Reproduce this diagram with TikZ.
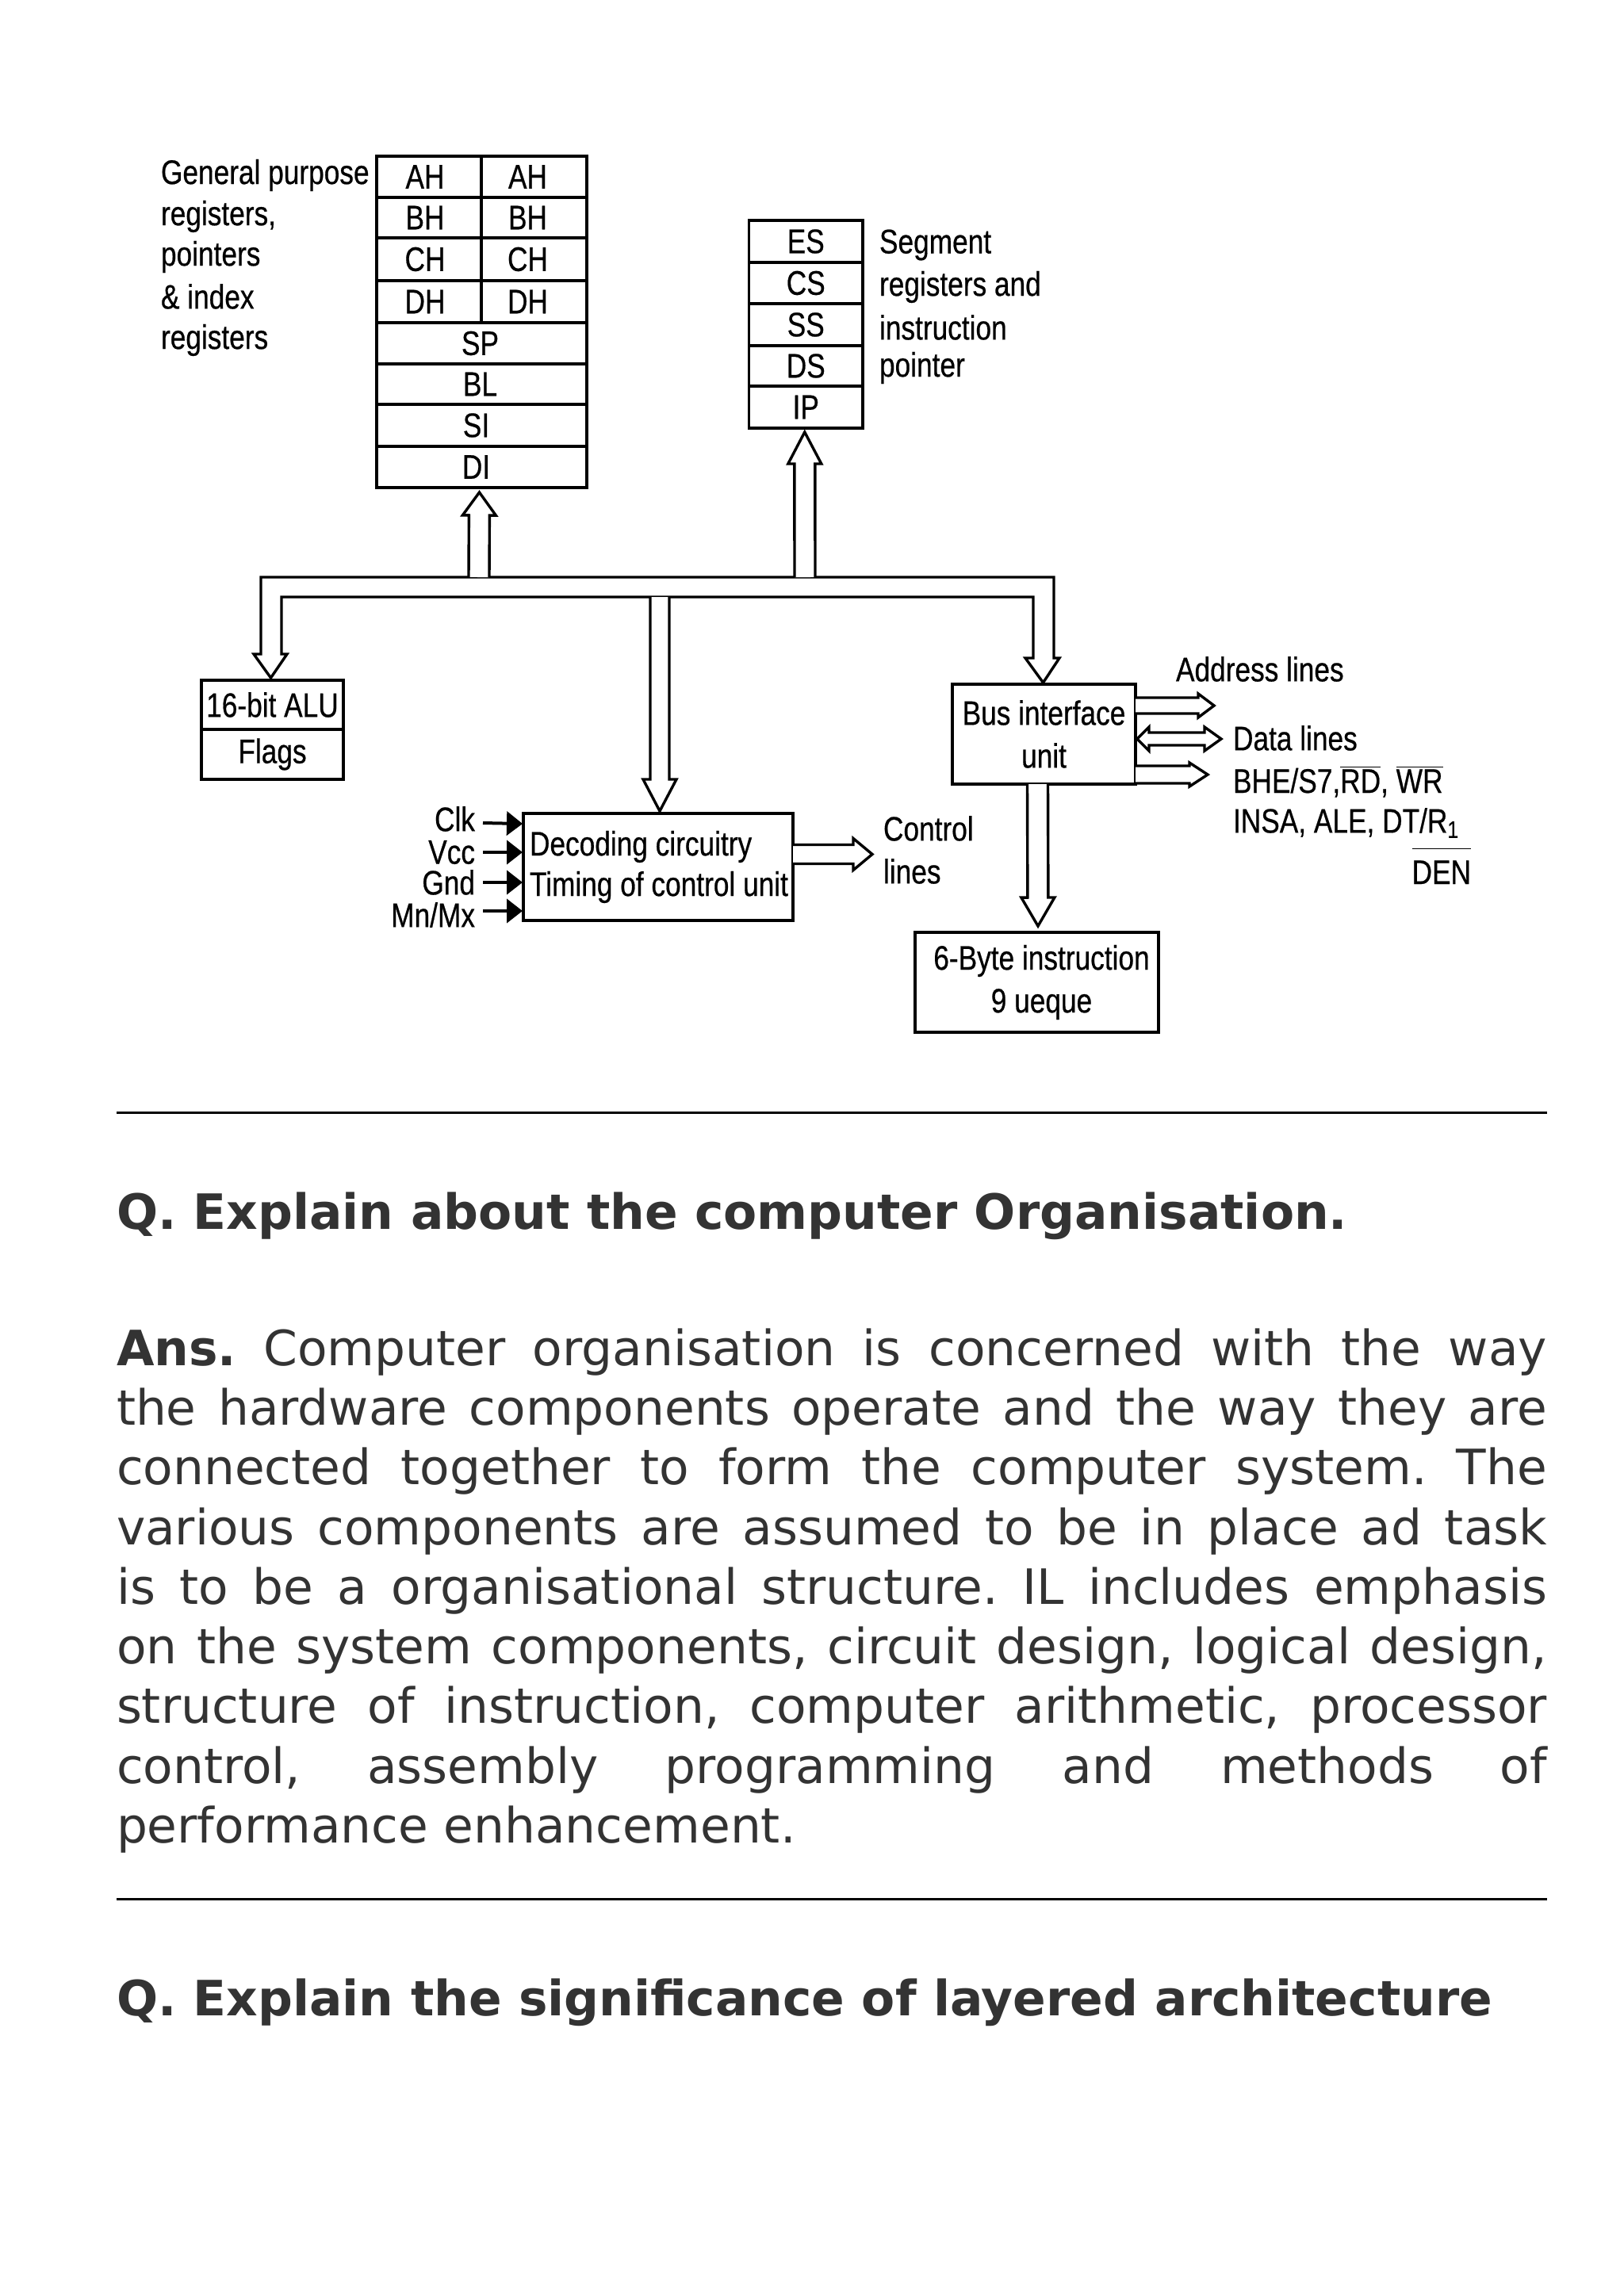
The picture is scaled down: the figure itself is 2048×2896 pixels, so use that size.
\documentclass[tikz,border=0pt]{standalone}
\usepackage{fontspec}
\setmainfont{DejaVu Sans}
\newfontfamily\dgfont[FakeStretch=0.82,FakeBold=0.5]{Liberation Sans}
\usetikzlibrary{calc,arrows.meta}
\definecolor{bodyink}{HTML}{333333}
\tikzset{
  x=0.5pt,y=-0.5pt,
  ink/.style={line width=1.7pt,draw=black,line join=miter},
  cell/.style={ink,rectangle,inner sep=0pt,outer sep=0pt,font=\dgfont\fontsize{21.5}{26}\selectfont,align=center},
  lab/.style={inner sep=0pt,outer sep=0pt,font=\dgfont\fontsize{21.5}{26}\selectfont},
  blockline/.style={ink,fill=white},
  pin/.style={line width=2pt,-{Triangle[length=10pt,width=15pt]}},
  rule/.style={line width=1.25pt,draw=black},
  para/.style={inner sep=0pt,outer sep=0pt,anchor=base west,text=bodyink,font=\frenchspacing\fontsize{30.7}{36}\selectfont},
  head/.style={para,font=\frenchspacing\bfseries\fontsize{30.7}{36}\selectfont},
}
% box from corner to corner, in picture units
\newcommand\cellbox[6]{%
  \pgfmathsetmacro\cw{(#4-#2)*0.5}\pgfmathsetmacro\ch{(#5-#3)*0.5}%
  \node[cell,minimum width=\cw pt,minimum height=\ch pt] (#1) at ({(#2+#4)/2},{(#3+#5)/2}) {#6};}
% open-based block arrow: from, tip, shaft half width, head half width, head length
\newcommand\blockarrow[5]{%
  \coordinate (hd) at ($(#2)!#5!(#1)$);
  \draw[blockline] ($(#1)!#3!90:(#2)$) -- ($(hd)!#3!-90:(#1)$) -- ($(hd)!#4!-90:(#1)$) -- (#2)
    -- ($(hd)!#4!90:(#1)$) -- ($(hd)!#3!90:(#1)$) -- ($(#1)!#3!-90:(#2)$);}
% nudge a cell's text sideways and down
\newcommand\rt[2]{\hspace*{#1}\raisebox{-1.5pt}{#2}}
\begin{document}
\begin{tikzpicture}
\useasboundingbox (0,0) rectangle (2048,2896);
\fill[white] (0,0) rectangle (2048,2896);

% general registers
\cellbox{ahl}{475}{197}{607}{249}{\rt{-5pt}{AH}}
\cellbox{ahr}{607}{197}{740}{249}{\rt{-8pt}{AH}}
\cellbox{bhl}{475}{249}{607}{300}{\rt{-5pt}{BH}}
\cellbox{bhr}{607}{249}{740}{300}{\rt{-8pt}{BH}}
\cellbox{chl}{475}{300}{607}{354}{\rt{-5pt}{CH}}
\cellbox{chr}{607}{300}{740}{354}{\rt{-8pt}{CH}}
\cellbox{dhl}{475}{354}{607}{407}{\rt{-5pt}{DH}}
\cellbox{dhr}{607}{354}{740}{407}{\rt{-8pt}{DH}}
\cellbox{sp}{475}{407}{740}{459}{\rt{-2pt}{SP}}
\cellbox{bl}{475}{459}{740}{510}{\rt{-2pt}{BL}}
\cellbox{si}{475}{510}{740}{563}{\rt{-7pt}{SI}}
\cellbox{di}{475}{563}{740}{615}{\rt{-7pt}{DI}}
\node[lab,anchor=west,align=left] (gptext) at (203,221) {General purpose};
\node[lab,anchor=west] (gp2) at (203,273) {registers,};
\node[lab,anchor=west] (gp3) at (203,324) {pointers};
\node[lab,anchor=west] (gp4) at (203,374) {\& index};
\node[lab,anchor=west] (gp5) at (203,429) {registers};

% segment registers
\cellbox{es}{944.5}{278}{1088}{331}{\rt{0pt}{ES}}
\cellbox{cs}{944.5}{331}{1088}{383}{\rt{0pt}{CS}}
\cellbox{ss}{944.5}{383}{1088}{436}{\rt{0pt}{SS}}
\cellbox{ds}{944.5}{436}{1088}{487}{\rt{0pt}{DS}}
\cellbox{ip}{944.5}{487}{1088}{540}{\rt{0pt}{IP}}
\node[lab,anchor=west] (sg1) at (1109,309) {Segment};
\node[lab,anchor=west] (sg2) at (1109,362) {registers and};
\node[lab,anchor=west] (sg3) at (1109,413) {instruction};
\node[lab,anchor=west] (sg4) at (1109,464) {pointer};

% units
\cellbox{alu}{254}{858}{433}{920}{16-bit ALU}
\cellbox{flags}{254}{920}{433}{983}{\rt{0pt}{Flags}}
\cellbox{dec}{660}{1026}{1000}{1161}{}
\node[lab,anchor=west] (dec1) at (668,1068) {Decoding circuitry};
\node[lab,anchor=west] (dec2) at (668,1119) {Timing of control unit};
\cellbox{biu}{1201}{863}{1432}{989}{Bus interface\\[1pt]unit}
\cellbox{que}{1154}{1176}{1461}{1302}{\hspace*{6pt}6-Byte instruction\\[1pt]\hspace*{6pt}9 ueque}

% bus with the two downward legs
\node[inner sep=0pt,outer sep=0pt,minimum width=500pt,minimum height=12.5pt] (bus) at (829,740.5) {};
\draw[blockline] (bus.north west) -- ($(bus.south west)+(0,72)$) -- ($(bus.south west)+(-9,72)$) -- ($(alu.north)+(-2,-3)$)
  -- ($(bus.south west)+(33,72)$) -- ($(bus.south west)+(26,72)$) -- ($(bus.south west)+(26,0)$)
  -- ($(bus.south east)+(-26,0)$) -- ($(bus.south east)+(-26,77)$) -- ($(bus.south east)+(-36,77)$) -- ($(biu.north)+(-1,-2)$)
  -- ($(bus.south east)+(7,77)$) -- ($(bus.south east)+(0,77)$) -- (bus.north east) -- cycle;

% block arrows
\coordinate (a1f) at ($(bus.north west)+(275,0)$);
\coordinate (a1t) at ($(di.south)+(-3,6)$);
\blockarrow{a1f}{a1t}{6.5pt}{10.5pt}{14.5pt}
\coordinate (a2f) at ($(bus.north west)+(686,0)$);
\coordinate (a2t) at ($(ip.south)+(-1.5,5)$);
\blockarrow{a2f}{a2t}{6.5pt}{10.5pt}{20pt}
\coordinate (a3f) at ($(bus.south west)+(503,0)$);
\coordinate (a3t) at ($(dec.north)+(2,-3)$);
\blockarrow{a3f}{a3t}{6pt}{10.5pt}{20pt}
\coordinate (a4f) at ($(dec.east)+(0,-16)$);
\coordinate (a4t) at ($(dec.east)+(100,-16)$);
\blockarrow{a4f}{a4t}{6pt}{10pt}{12pt}
\coordinate (a5f) at ($(biu.north east)+(0,27)$);
\coordinate (a5t) at ($(biu.north east)+(99,27)$);
\blockarrow{a5f}{a5t}{5pt}{7.5pt}{10pt}
\coordinate (a6f) at ($(biu.north east)+(2,69)$);
\coordinate (a6t) at ($(biu.north east)+(108,69)$);
\draw[blockline] (a6f) -- ($(a6f)+(15,-15)$) -- ($(a6f)+(15,-8)$) -- ($(a6t)+(-21,-8)$) -- ($(a6t)+(-21,-15)$) -- (a6t)
  -- ($(a6t)+(-21,15)$) -- ($(a6t)+(-21,8)$) -- ($(a6f)+(15,8)$) -- ($(a6f)+(15,15)$) -- cycle;
\coordinate (a7f) at ($(biu.north east)+(0,114)$);
\coordinate (a7t) at ($(biu.north east)+(91,114)$);
\blockarrow{a7f}{a7t}{5.5pt}{7.5pt}{11.5pt}
\coordinate (a8f) at ($(biu.south)+(-8,0)$);
\coordinate (a8t) at ($(que.north)+(1.5,-8)$);
\blockarrow{a8f}{a8t}{6.5pt}{10.5pt}{18pt}

% control inputs
\node[lab,anchor=east] (clk) at (599,1033) {Clk};
\node[lab,anchor=east] (vcc) at (599,1075) {Vcc};
\node[lab,anchor=east] (gnd) at (599,1113) {Gnd};
\node[lab,anchor=east] (mnx) at (599,1154) {Mn/Mx};
\draw[pin] ($(clk.east)+(10,5)$) -- ($(dec.north west)+(-1,13)$);
\draw[pin] ($(vcc.east)+(10,0)$) -- ($(dec.north west)+(-1,49)$);
\draw[pin] ($(gnd.east)+(10,0)$) -- ($(dec.north west)+(-1,87)$);
\draw[pin] ($(mnx.east)+(10,-5)$) -- ($(dec.north west)+(-1,123)$);

% outer labels
\node[lab,anchor=west] (ctl1) at (1114,1045) {Control};
\node[lab,anchor=west] (ctl2) at (1114,1099) {lines};
\node[lab,anchor=west] (addr) at (1483,844) {Address lines};
\node[lab,anchor=west] (data) at (1555,931) {Data lines};
\node[lab,anchor=base west] (bhe) at (1555,1000) {BHE/S7,$\overline{\mbox{RD}}$, $\overline{\mbox{WR}}$};
\node[lab,anchor=west] (insa) at (1555,1038) {INSA, ALE, DT/R\textsubscript{1}};
\node[lab,anchor=base east] (den) at (1855,1115) {$\overline{\mbox{DEN\rule{0pt}{21pt}}}$};

% rules
\coordinate (r1a) at (147,1403.5); \coordinate (r1b) at (1951,1403.5);
\coordinate (r2a) at (147,2395.5); \coordinate (r2b) at (1951,2395.5);
\draw[rule] (r1a) -- (r1b);
\draw[rule] (r2a) -- (r2b);

% text
\node[head] (q1) at (147,1550) {Q. Explain about the computer Organisation.};
\node[para] (l1) at (147,1722) {\hbox to 902pt{\textbf{Ans.} Computer organisation is concerned with the way}};
\node[para] (l2) at (147,1797) {\hbox to 902pt{the hardware components operate and the way they are}};
\node[para] (l3) at (147,1872) {\hbox to 902pt{connected together to form the computer system. The}};
\node[para] (l4) at (147,1948) {\hbox to 902pt{various components are assumed to be in place ad task}};
\node[para] (l5) at (147,2023) {\hbox to 902pt{is to be a organisational structure. IL includes emphasis}};
\node[para] (l6) at (147,2098) {\hbox to 902pt{on the system components, circuit design, logical design,}};
\node[para] (l7) at (147,2173) {\hbox to 902pt{structure of instruction, computer arithmetic, processor}};
\node[para] (l8) at (147,2249) {\hbox to 902pt{control, assembly programming and methods of}};
\node[para] (l9) at (147,2324) {performance enhancement.};
\node[head] (q2) at (147,2542) {Q. Explain the significance of layered architecture};
\end{tikzpicture}
\end{document}
